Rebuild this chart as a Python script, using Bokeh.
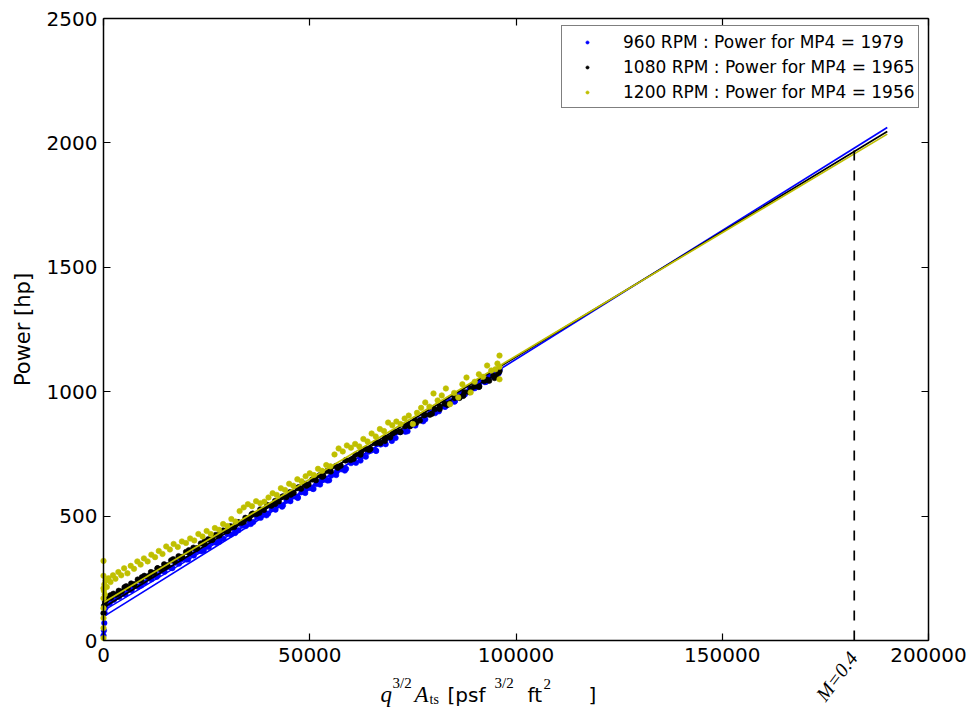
import math
from bokeh.plotting import figure
from bokeh.models import (Range1d, FixedTicker, LinearAxis, Label, Legend, LegendItem,
                          CustomJSTickFormatter, NumeralTickFormatter)
from bokeh.embed import file_html
from bokeh.resources import INLINE

# ---------------- data ----------------
rpm = [960, 1080, 1200]
power_mp4 = [1979, 1965, 1956]
x_mp4 = 182000
x_fit_end = 190000
fit_intercepts = [96, 133, 153]
short_fit_x_end = 96000
short_fit_start = [120, 160]
short_fit_end = [1075, 1078]

x_ticks = [0, 50000, 100000, 150000, 200000]
y_ticks = [0, 500, 1000, 1500, 2000, 2500]

blue_x = [0, 100, 200, 300, 450, 700, 1000, 1400, 1900, 2500, 3100, 3800, 4500, 5200, 6000, 6800,
          7600, 8400, 9200, 10000, 10800, 11600, 12400, 13200, 14000, 14800, 15600, 16500, 17400,
          18300, 19200, 20100, 21000, 21900, 22800, 23700, 24600, 25500, 26400, 27300, 28200, 29100,
          30000, 30900, 31800, 32700, 33600, 34500, 35400, 36300, 37200, 38100, 39000, 39900, 40800,
          41700, 42600, 43500, 44400, 45300, 46200, 47100, 48000, 48900, 49800, 50700, 51600, 52500,
          53400, 54300, 55200, 56400, 57600, 58800, 60000, 61200, 62400, 63600, 64800, 66000, 67200,
          68400, 69600, 70800, 72000, 73200, 74400, 75600, 76800, 78000, 79200, 80400, 81600, 82800,
          84000, 85200, 86400, 87600, 88800, 90000, 91200, 92400, 93600, 94600, 95300, 95800, 96100]
blue_y = [20, 40, 70, 110, 130, 145, 158, 152, 168, 163, 178, 175, 192, 188, 205, 202,
          220, 216, 235, 233, 250, 246, 265, 262, 280, 276, 295, 292, 312,
          309, 328, 326, 345, 342, 362, 359, 379, 376, 395, 393, 412, 409,
          429, 426, 446, 443, 462, 460, 479, 476, 496, 493, 512, 510, 529,
          526, 546, 543, 562, 560, 579, 576, 596, 593, 613, 610, 629, 627,
          646, 643, 663, 665, 688, 690, 713, 714, 738, 739, 763, 764, 788,
          789, 813, 814, 838, 839, 863, 864, 888, 889, 913, 914, 938, 939,
          963, 963, 988, 989, 1013, 1014, 1038, 1039, 1062, 1062, 1078, 1074, 1090]
blue_run2_x = [1500, 3400, 5300, 7200, 9100, 11000, 12900, 14800, 16700, 18600, 20500, 22400,
               24300, 26200, 28100, 30000, 31900, 33800, 35700, 37600, 39500, 41400, 43300, 45200,
               47100, 49000, 50900, 52800, 54700, 56600, 58500, 60400, 62300, 64200, 66100, 68000,
               69900, 71800, 73700, 75600, 77500, 79400, 81300, 83200, 85100, 87000, 88900, 90800,
               92700, 94600]
blue_run2_y = [150, 184, 185, 219, 221, 254, 256, 289, 291, 325, 326, 360,
               362, 395, 397, 431, 432, 466, 468, 501, 503, 536, 538, 572,
               573, 607, 609, 642, 644, 680, 683, 719, 723, 759, 762, 798,
               802, 838, 841, 877, 881, 917, 921, 956, 960, 996, 1000, 1035,
               1039, 1075]

black_x = [0, 150, 350, 600, 900, 1300, 1800, 2400, 3000, 3700, 4400, 5100, 5900, 6700, 7500, 8300,
           9100, 9900, 10700, 11500, 12300, 13100, 13900, 14700, 15500, 16400, 17300, 18200, 19100,
           20000, 20900, 21800, 22700, 23600, 24500, 25400, 26300, 27200, 28100, 29000, 29900, 30800,
           31700, 32600, 33500, 34400, 35300, 36200, 37100, 38000, 38900, 39800, 40700, 41600, 42500,
           43400, 44300, 45200, 46100, 47000, 47900, 48800, 49700, 50600, 51500, 52400, 53300, 54200,
           55100, 56300, 57500, 58700, 59900, 61100, 62300, 63500, 64700, 65900, 67100, 68300, 69500,
           70700, 71900, 73100, 74300, 75500, 76700, 77900, 79100, 80300, 81500, 82700, 83900, 85100,
           86300, 87500, 88700, 89900, 91100, 92300, 93500, 94500, 95200, 95700, 96000]
black_y = [110, 140, 155, 162, 168, 176, 172, 188, 184, 200, 197, 214, 211, 229, 226, 245,
           241, 260, 257, 275, 272, 290, 287, 306, 302, 322, 319, 339, 336,
           356, 353, 373, 371, 390, 388, 407, 405, 424, 422, 442, 439, 459,
           456, 476, 473, 493, 490, 510, 508, 527, 525, 544, 542, 561, 559,
           578, 576, 596, 593, 613, 610, 630, 627, 647, 644, 664, 661, 681,
           679, 701, 702, 724, 725, 747, 747, 770, 770, 793, 793, 815, 816,
           838, 839, 861, 861, 884, 884, 907, 907, 929, 930, 952, 953, 975,
           975, 998, 998, 1021, 1021, 1043, 1044, 1064, 1060, 1076, 1082]
black_run2_x = [1700, 3600, 5500, 7400, 9300, 11200, 13100, 15000, 16900, 18800, 20700, 22600,
                24500, 26400, 28300, 30200, 32100, 34000, 35900, 37800, 39700, 41600, 43500, 45400,
                47300, 49200, 51100, 53000, 54900, 56800, 58700, 60600, 62500, 64400, 66300, 68200,
                70100, 72000, 73900, 75800, 77700, 79600, 81500, 83400, 85300, 87200, 89100, 91000,
                92900, 94800]
black_run2_y = [182, 188, 218, 224, 254, 260, 290, 296, 327, 333, 363, 369,
                399, 405, 435, 441, 471, 477, 507, 513, 543, 549, 579, 586,
                616, 622, 652, 658, 688, 694, 724, 730, 760, 766, 796, 802,
                832, 838, 868, 875, 905, 911, 941, 947, 977, 983, 1013, 1019,
                1049, 1055]

yellow_x = [0, 0, 0, 0, 0, 0, 0, 0, 100, 200, 300, 500, 800, 1200, 1700, 2300, 2900, 3600, 4300,
            5000, 5800, 6600, 7400, 8200, 9000, 9800, 10700, 11600, 12500, 13400, 14300, 15200,
            16100, 17000, 18000, 19000, 20000, 21000, 22000, 23000, 24000, 25000, 26000, 27000,
            28000, 29000, 30000, 31000, 32000, 33000, 34000, 35000, 36000, 37000, 38000, 39000,
            40000, 41000, 42000, 43000, 44000, 45000, 46000, 47000, 48000, 49000, 50000, 51000,
            52000, 53000, 54000, 55000, 56000, 57000, 58000, 59000, 60000, 61000, 62000, 63000,
            64000, 65000, 66000, 67000, 68000, 69000, 70000, 71000, 72000, 73000, 74000, 75000,
            76000, 77000, 78000, 79000, 80000, 81000, 82000, 83000, 84000, 85000, 86000, 87000,
            88000, 89000, 90000, 91000, 92000, 93000, 94000, 95000, 95500, 96000, 96000, 96000]
yellow_y = [10, 50, 90, 130, 170, 210, 260, 320, 200, 225, 185, 240, 215, 250, 235, 262, 248, 275, 262,
            290, 270, 300, 288, 318, 305, 330, 318, 345, 335, 360, 348, 378,
            366, 388, 376, 398, 392, 410, 402, 428, 418, 440, 428, 452,
            445, 468, 460, 488, 478, 520, 535, 548, 540, 560, 552, 558,
            575, 592, 585, 612, 605, 630, 622, 648, 640, 660, 672, 665,
            690, 682, 705, 700, 748, 772, 760, 784, 775, 790, 780, 810,
            800, 832, 820, 850, 842, 876, 865, 880, 870, 892, 904, 870,
            915, 935, 957, 940, 993, 965, 985, 1013, 950, 995, 977, 1030,
            1057, 997, 1040, 1070, 1060, 1105, 1085, 1090, 1113, 1145, 1050, 1100]

series_x = [blue_x + blue_run2_x, black_x + black_run2_x, yellow_x]
series_y = [blue_y + blue_run2_y, black_y + black_run2_y, yellow_y]
colors = ["#0000ff", "#000000", "#bfbf00"]

# ---------------- frame geometry (page pixels of the reference axes box) ----------------
W, H = 974, 708
FL, FR, FT, FB = 103, 928, 18, 640
X0, X1 = x_ticks[0], x_ticks[-1]
Y0, Y1 = y_ticks[0], y_ticks[-1]


def dx(px):
    return X0 + (px - FL) / (FR - FL) * (X1 - X0)


def dy(py):
    return Y0 + (FB - py) / (FB - FT) * (Y1 - Y0)


FONT = "DejaVu Sans"
SERIF = "Liberation Serif"

# The plot frame covers the whole canvas; the axes are fixed at the box edges so that
# every text outside the box (tick labels, axis titles, M=0.4) stays visible.
p = figure(width=W, height=H, output_backend="svg", toolbar_location=None,
           x_range=Range1d(dx(0), dx(W)), y_range=Range1d(dy(H), dy(0)),
           min_border=0, min_border_left=0, min_border_right=0,
           min_border_top=0, min_border_bottom=0)
p.grid.visible = False
p.outline_line_color = None
p.background_fill_color = "white"
p.border_fill_color = "white"


def style_axis(ax, ticks, bounds, loc):
    ax.ticker = FixedTicker(ticks=ticks)
    ax.bounds = bounds
    ax.fixed_location = loc
    ax.major_tick_in = 7
    ax.major_tick_out = 0
    ax.minor_tick_line_color = None
    ax.axis_line_width = 1.5
    ax.axis_line_color = "black"
    ax.major_tick_line_width = 1.2
    ax.major_tick_line_color = "black"
    ax.major_label_text_font = FONT
    ax.major_label_text_font_size = "20px"
    ax.major_label_text_color = "black"


style_axis(p.xaxis[0], x_ticks, (X0, X1), Y0)
p.xaxis.formatter = NumeralTickFormatter(format="0")
p.xaxis.major_label_standoff = 7
style_axis(p.yaxis[0], y_ticks, (Y0, Y1), X0)
p.yaxis.formatter = NumeralTickFormatter(format="0")
p.yaxis.major_label_standoff = 6

blank = CustomJSTickFormatter(code="return ''")
top_axis = LinearAxis(formatter=blank, major_label_standoff=0)
style_axis(top_axis, x_ticks, (X0, X1), Y1)
top_axis.major_label_text_font_size = "0px"
p.add_layout(top_axis, "above")
right_axis = LinearAxis(formatter=blank, major_label_standoff=0)
style_axis(right_axis, y_ticks, (Y0, Y1), X1)
right_axis.major_label_text_font_size = "0px"
p.add_layout(right_axis, "right")

legend_items = []
for i in range(3):
    r = p.scatter(series_x[i], series_y[i], size=5.5, marker="circle",
                  fill_color=colors[i], line_color=colors[i], line_width=0.6)
    slope = (power_mp4[i] - fit_intercepts[i]) / x_mp4
    p.line([0, x_fit_end], [fit_intercepts[i], fit_intercepts[i] + slope * x_fit_end],
           line_color=colors[i], line_width=1.7)
    if i < 2:
        p.line([0, short_fit_x_end], [short_fit_start[i], short_fit_end[i]],
               line_color=colors[i], line_width=1.3)
    legend_items.append(LegendItem(label=f"{rpm[i]} RPM : Power for MP4 = {power_mp4[i]}",
                                   renderers=[r]))

p.line([x_mp4, x_mp4], [0, power_mp4[0]], line_color="black", line_width=1.7, line_dash="10 10")

legend = Legend(items=legend_items, location=(561, H - 108),
                padding=3, spacing=0, glyph_width=44, glyph_height=8,
                label_height=25, label_width=290, label_standoff=14,
                label_text_font=FONT, label_text_font_size="17px",
                label_text_baseline="middle", label_text_color="black",
                border_line_color="black", border_line_width=1.2,
                background_fill_color="white", background_fill_alpha=1.0)
p.add_layout(legend)

# y axis title
p.add_layout(Label(x=dx(22), y=dy(329), text="Power [hp]", angle=math.pi / 2,
                   text_align="center", text_baseline="middle", text_font=FONT,
                   text_font_size="21px", text_color="black"))

# M = 0.4 annotation below the axis
p.add_layout(Label(x=dx(844), y=dy(647), text="M=0.4", angle=math.radians(53),
                   text_align="right", text_baseline="top", text_font=SERIF,
                   text_font_style="italic", text_font_size="20px", text_color="black"))

# x axis title built from pieces (math-like)
pieces = [
    ("q", 380, 694, SERIF, "italic", "23px"),
    ("3/2", 392, 682, SERIF, "normal", "15px"),
    ("A", 414, 694, SERIF, "italic", "23px"),
    ("ts", 429, 699, SERIF, "normal", "14px"),
    ("[psf", 447, 694, FONT, "normal", "20px"),
    ("3/2", 494, 682, SERIF, "normal", "15px"),
    ("ft", 527, 694, FONT, "normal", "20px"),
    ("2", 543, 683, SERIF, "normal", "15px"),
    ("]", 588, 694, FONT, "normal", "20px"),
]
for txt, px_, py_, fnt, sty, sz in pieces:
    p.add_layout(Label(x=dx(px_), y=dy(py_), text=txt, text_align="left",
                       text_baseline="alphabetic", text_font=fnt, text_font_style=sty,
                       text_font_size=sz, text_color="black"))

open("out.html", "w").write(file_html(p, INLINE))
